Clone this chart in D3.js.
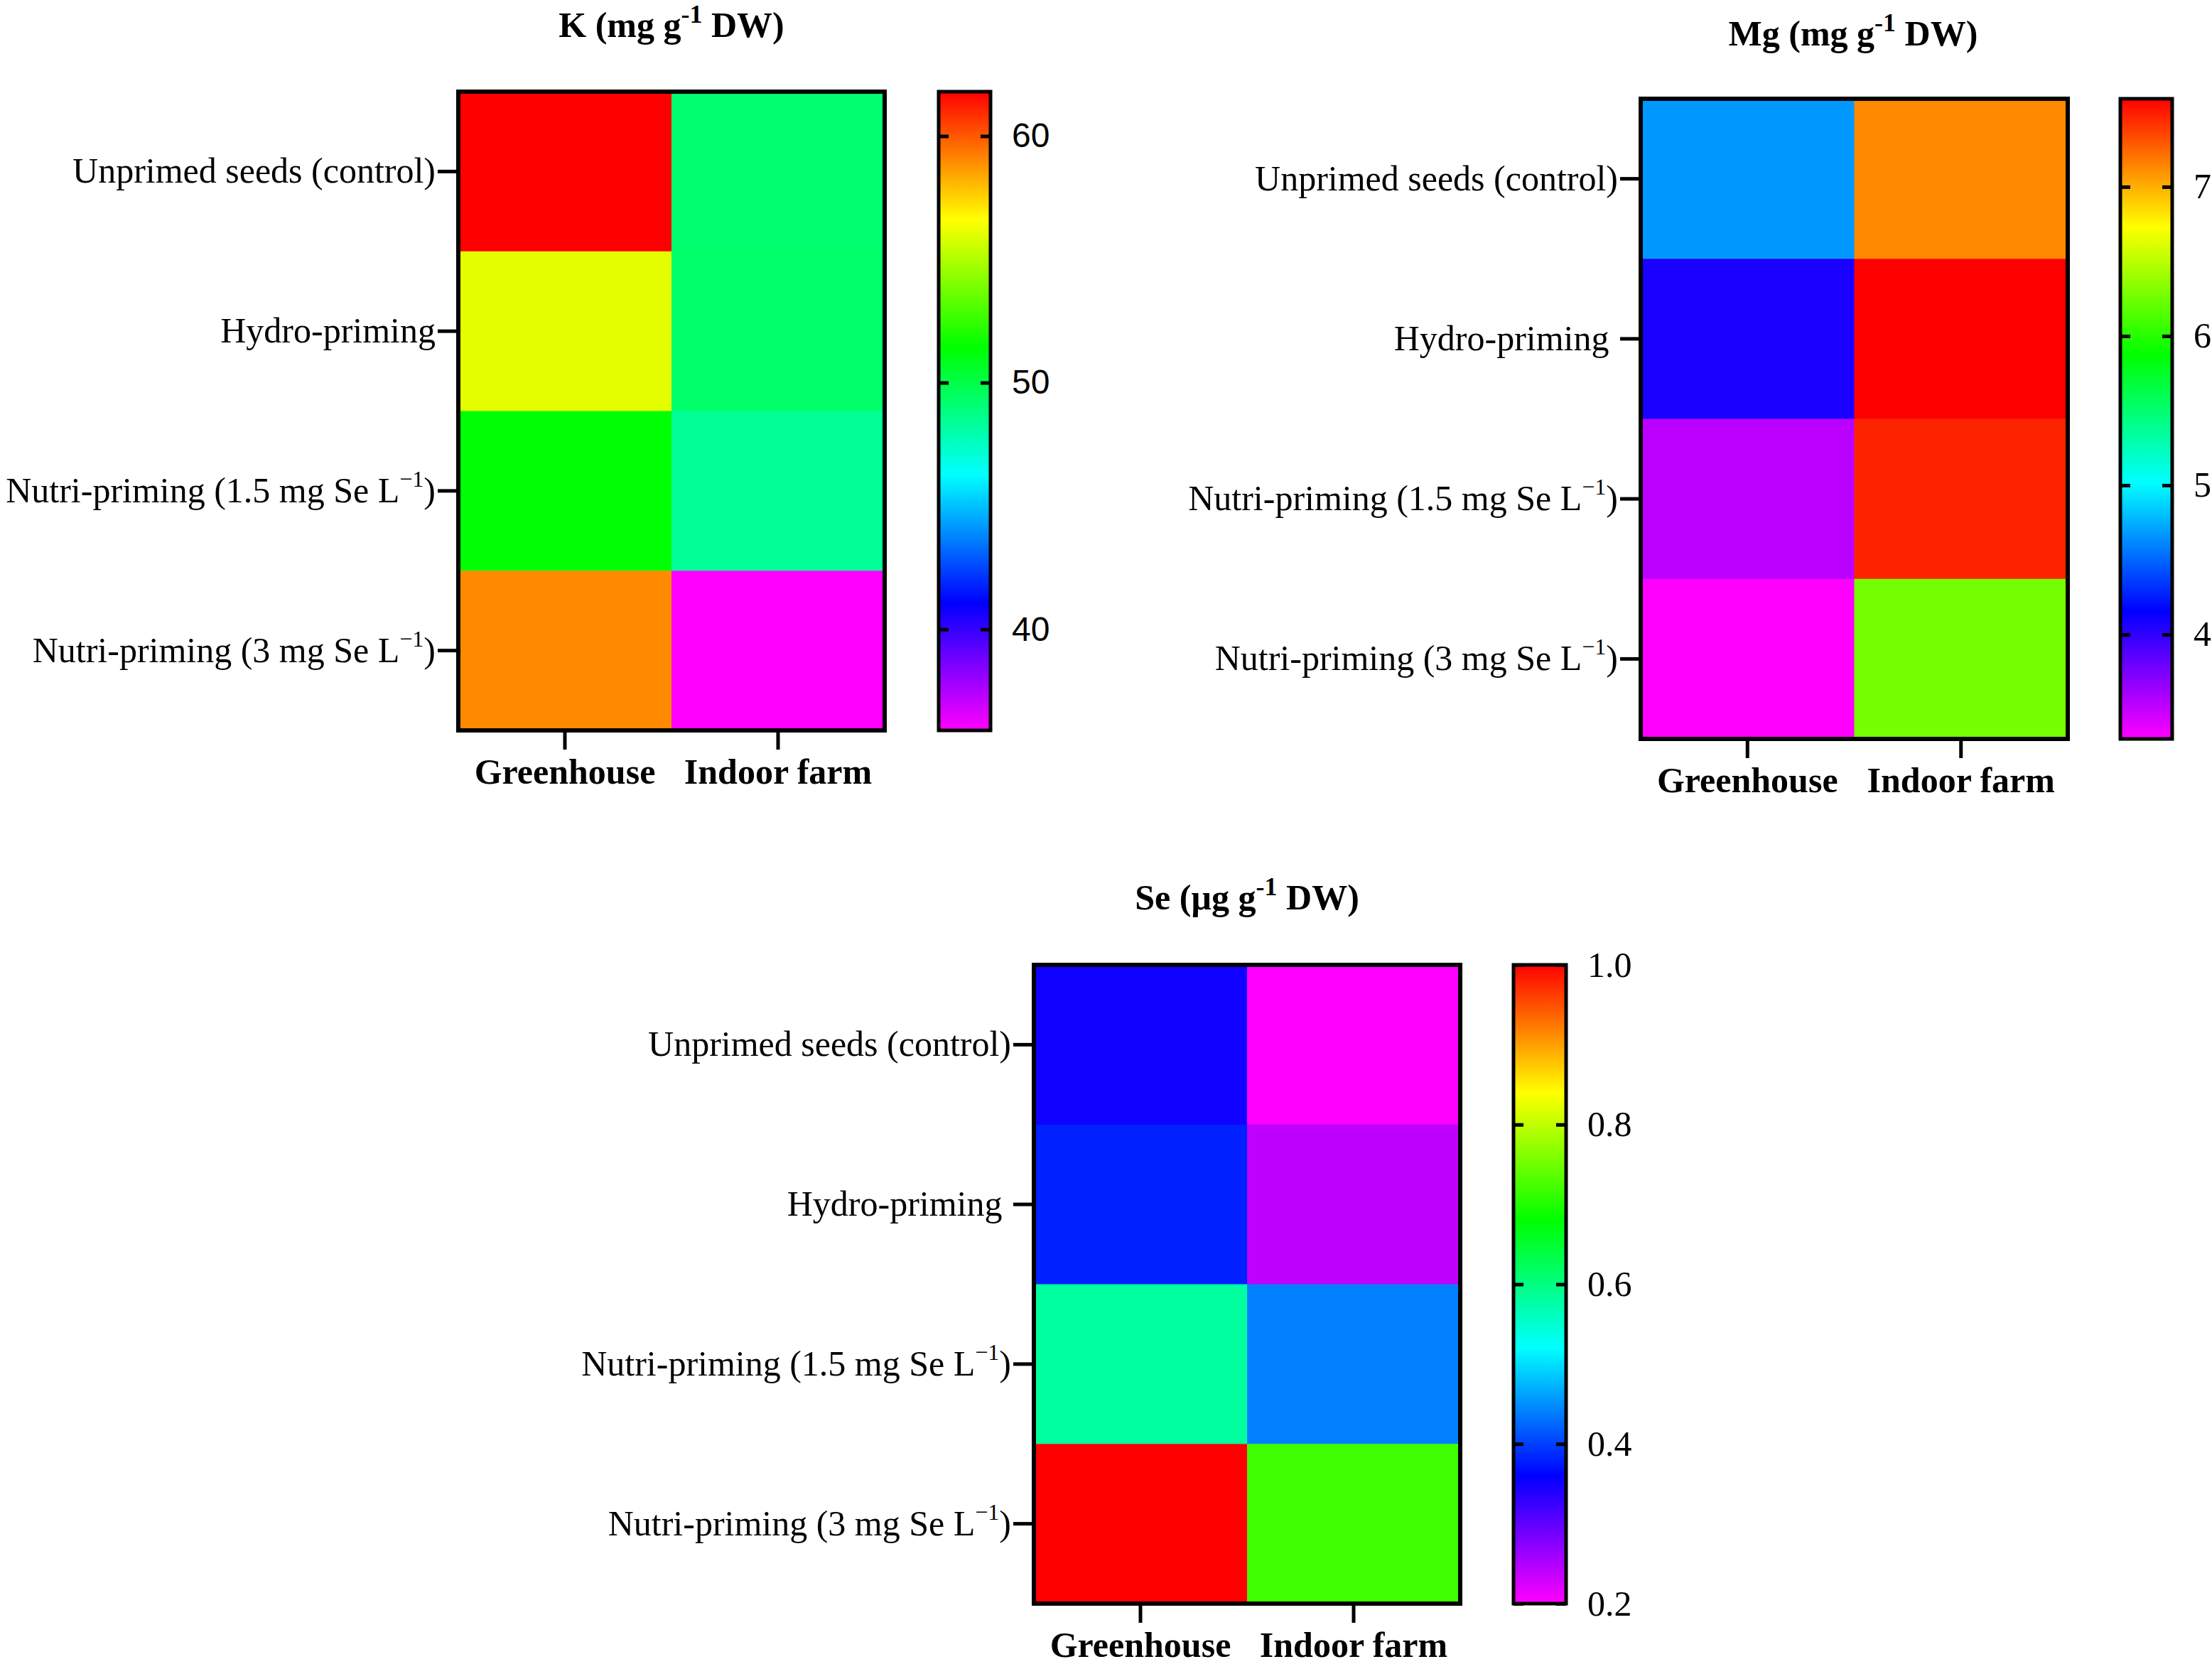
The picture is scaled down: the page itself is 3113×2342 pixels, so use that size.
<!DOCTYPE html>
<html>
<head>
<meta charset="utf-8">
<script src="https://cdn.jsdelivr.net/npm/d3@7"></script>
<style>
  html, body { margin: 0; padding: 0; background: #fff; }
  svg { display: block; }
  text { white-space: pre; }
</style>
</head>
<body>
<svg id="chart" width="3113" height="2342"></svg>
<script>
// ---------- data ----------
const rowLabels = [
  ["Unprimed seeds (control)", null],
  ["Hydro-priming", null],
  ["Nutri-priming (1.5 mg Se L", "\u22121", ")"],
  ["Nutri-priming (3 mg Se L", "\u22121", ")"]
];
const rowKeys = ["Unprimed", "Hydro", "Nutri1.5", "Nutri3"];
const colLabels = ["Greenhouse", "Indoor farm"];

const kGreenhouse = [61.8, 56.1, 51.4, 59.0];
const kIndoor     = [49.2, 49.3, 48.4, 35.9];
const kDomain     = [35.9, 61.8];
const kTicks      = [40, 50, 60];

const mgGreenhouse = [4.67, 4.07, 3.53, 3.30];
const mgIndoor     = [7.13, 7.59, 7.47, 6.27];
const mgDomain     = [3.30, 7.59];
const mgTicks      = [4, 5, 6, 7];

const seGreenhouse = [0.35, 0.38, 0.58, 1.0];
const seIndoor     = [0.20, 0.24, 0.44, 0.72];
const seDomain     = [0.2, 1.0];
const seTicks      = [0.2, 0.4, 0.6, 0.8, 1.0];

// ---------- helpers ----------
const svg = d3.select("#chart");
const SERIF = "'Liberation Serif', 'Times New Roman', serif";
const SANS = "'Liberation Sans', Arial, sans-serif";

// Prism-like rainbow: magenta (low) -> blue -> cyan -> green -> yellow -> red (high)
function rainbow(t) {
  t = Math.max(0, Math.min(1, t));
  return d3.hsl(300 * (1 - t), 1, 0.5).formatHex();
}

let gradId = 0;

function drawPanel(cfg) {
  const g = svg.append("g");
  const values = rowKeys.map((k, i) => ({ row: k, idx: i, vals: [cfg.gh[i], cfg.ind[i]] }));

  const x = d3.scaleBand().domain(colLabels).range([cfg.x0, cfg.x1]).padding(0);
  const y = d3.scaleBand().domain(rowKeys).range([cfg.y0, cfg.y1]).padding(0);
  const c = d3.scaleLinear().domain(cfg.domain).range([0, 1]).clamp(true);

  // cells
  const cells = [];
  values.forEach(r => r.vals.forEach((v, j) => cells.push({ row: r.row, col: colLabels[j], v })));
  g.selectAll("rect.cell").data(cells).join("rect")
    .attr("class", "cell")
    .attr("x", d => x(d.col))
    .attr("y", d => y(d.row))
    .attr("width", x.bandwidth() + 0.5)
    .attr("height", y.bandwidth() + 0.5)
    .attr("fill", d => rainbow(c(d.v)));

  // frame
  g.append("rect")
    .attr("x", cfg.x0).attr("y", cfg.y0)
    .attr("width", cfg.x1 - cfg.x0).attr("height", cfg.y1 - cfg.y0)
    .attr("fill", "none").attr("stroke", "#000").attr("stroke-width", 6);

  // y axis (row labels)
  const yAxis = g.append("g")
    .attr("transform", `translate(${cfg.x0 - 3},0)`)
    .call(d3.axisLeft(y).tickSize(26).tickSizeOuter(0).tickPadding(3));
  yAxis.select(".domain").remove();
  yAxis.selectAll(".tick line").attr("stroke", "#000").attr("stroke-width", 5);
  yAxis.selectAll(".tick text").each(function (d) {
    const i = rowKeys.indexOf(d);
    const lab = rowLabels[i];
    const t = d3.select(this);
    t.text(null)
      .attr("font-family", SERIF).attr("font-size", 50).attr("fill", "#000")
      .attr("dy", "0.32em");
    t.append("tspan").text(lab[0] + (d === "Hydro" && cfg.hydroGap ? " " : ""));
    if (lab[1]) {
      t.append("tspan").attr("font-size", 32).attr("dy", -22).text(lab[1]);
      t.append("tspan").attr("dy", 22).text(lab[2]);
    }
  });

  // x axis
  const xAxis = g.append("g")
    .attr("transform", `translate(0,${cfg.y1 + 3})`)
    .call(d3.axisBottom(x).tickSize(24).tickSizeOuter(0));
  xAxis.select(".domain").remove();
  xAxis.selectAll(".tick line").attr("stroke", "#000").attr("stroke-width", 5);
  xAxis.selectAll(".tick text")
    .attr("y", 72).attr("dy", 0)
    .attr("font-family", SERIF).attr("font-size", 50).attr("font-weight", "bold").attr("fill", "#000");

  // title
  const title = g.append("text")
    .attr("x", cfg.titleX).attr("y", cfg.titleY)
    .attr("text-anchor", "middle")
    .attr("font-family", SERIF).attr("font-size", 50).attr("font-weight", "bold");
  title.append("tspan").text(cfg.title[0]);
  title.append("tspan").attr("font-size", 36).attr("dy", -20).text("-1");
  title.append("tspan").attr("dy", 20).text(cfg.title[1]);

  // colorbar
  const id = "grad" + (gradId++);
  const grad = svg.append("defs").append("linearGradient")
    .attr("id", id).attr("x1", 0).attr("y1", 1).attr("x2", 0).attr("y2", 0);
  d3.range(0, 1.0001, 0.02).forEach(t => {
    grad.append("stop").attr("offset", t).attr("stop-color", rainbow(t));
  });
  const cbScale = d3.scaleLinear().domain(cfg.domain).range([cfg.y1, cfg.y0]);
  g.append("rect")
    .attr("x", cfg.cb0).attr("y", cfg.y0)
    .attr("width", cfg.cb1 - cfg.cb0).attr("height", cfg.y1 - cfg.y0)
    .attr("fill", `url(#${id})`)
    .attr("stroke", "#000").attr("stroke-width", 5);

  const cbRight = g.append("g")
    .attr("transform", `translate(${cfg.cb1},0)`)
    .call(d3.axisRight(cbScale).tickValues(cfg.ticks).tickSize(-14).tickSizeOuter(0)
      .tickPadding(30).tickFormat(cfg.fmt));
  cbRight.select(".domain").remove();
  cbRight.selectAll(".tick line").attr("stroke", "#000").attr("stroke-width", 5);
  cbRight.selectAll(".tick text")
    .attr("font-family", cfg.cbFont).attr("font-size", cfg.cbFontSize).attr("fill", "#000");

  const cbLeft = g.append("g")
    .attr("transform", `translate(${cfg.cb0},0)`)
    .call(d3.axisLeft(cbScale).tickValues(cfg.ticks).tickSize(-14).tickSizeOuter(0).tickFormat(""));
  cbLeft.select(".domain").remove();
  cbLeft.selectAll(".tick line").attr("stroke", "#000").attr("stroke-width", 5);
}

drawPanel({
  gh: kGreenhouse, ind: kIndoor, domain: kDomain, ticks: kTicks,
  x0: 645, x1: 1245, y0: 129, y1: 1028, cb0: 1321, cb1: 1394,
  titleX: 945, titleY: 52, title: ["K (mg g", " DW)"], hydroGap: false,
  cbFont: SANS, cbFontSize: 48, fmt: d3.format("d")
});

drawPanel({
  gh: mgGreenhouse, ind: mgIndoor, domain: mgDomain, ticks: mgTicks,
  x0: 2309, x1: 2910, y0: 139, y1: 1040, cb0: 2984, cb1: 3057,
  titleX: 2608, titleY: 64, title: ["Mg (mg g", " DW)"], hydroGap: true,
  cbFont: SERIF, cbFontSize: 50, fmt: d3.format("d")
});

drawPanel({
  gh: seGreenhouse, ind: seIndoor, domain: seDomain, ticks: seTicks,
  x0: 1455, x1: 2055, y0: 1358, y1: 2257, cb0: 2130, cb1: 2204,
  titleX: 1755, titleY: 1280, title: ["Se (\u00b5g g", " DW)"], hydroGap: true,
  cbFont: SERIF, cbFontSize: 50, fmt: d3.format(".1f")
});
</script>
</body>
</html>
